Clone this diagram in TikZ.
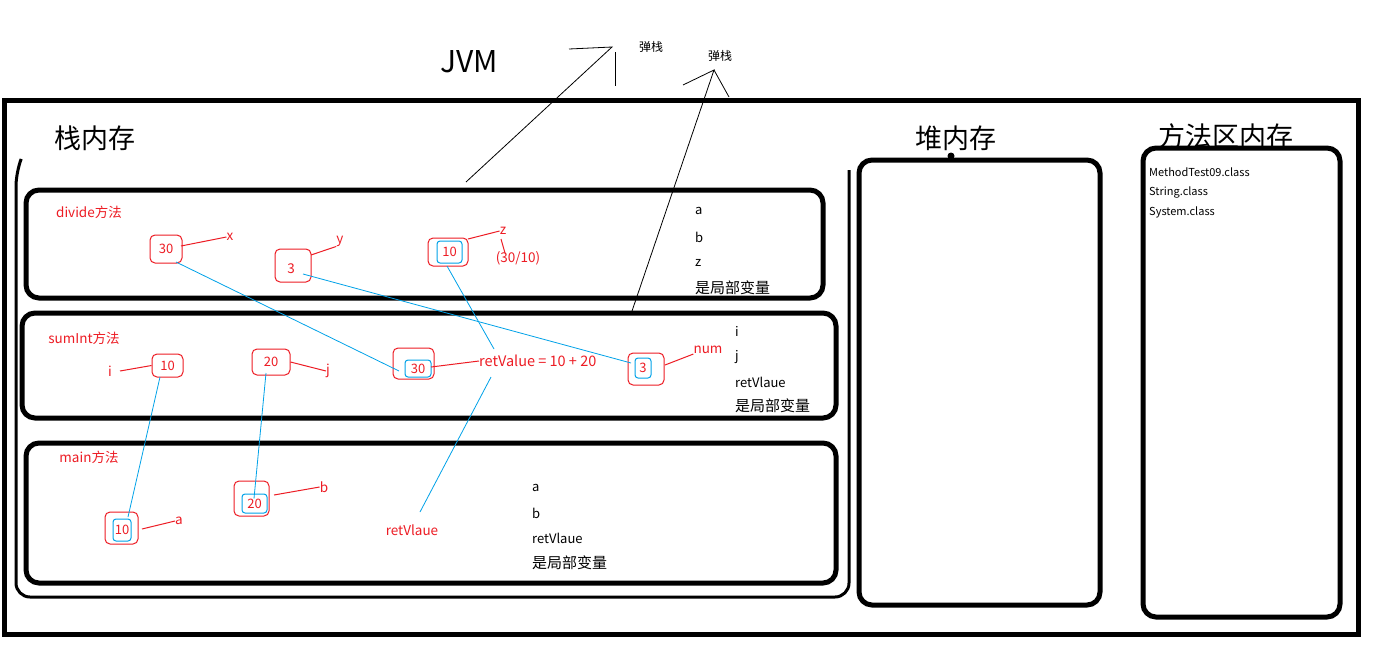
\documentclass[tikz,border=0pt]{standalone}
\usepackage{fontspec}
\setmainfont{Noto Sans CJK SC}
\usetikzlibrary{calc}
\definecolor{pred}{RGB}{237,28,36}
\definecolor{pblue}{RGB}{0,162,232}
\begin{document}
\begin{tikzpicture}[x=1pt,y=-1pt,
  frame/.style={draw, line width=5pt, inner sep=0pt},
  panel/.style={draw, line width=5pt, rounded corners=13pt, inner sep=0pt},
  vbox/.style={draw=pred, line width=1pt, rounded corners=5pt, inner sep=0pt, text=pred, font=\fontsize{13}{15}\selectfont},
  ibox/.style={draw=pblue, line width=1pt, rounded corners=3pt, inner sep=0pt, text=pred, font=\fontsize{13}{15}\selectfont},
  rlab/.style={text=pred, font=\fontsize{13.5}{15}\selectfont, inner sep=0pt},
  blab/.style={text=black, font=\fontsize{13}{15}\selectfont, inner sep=0pt, anchor=west},
  cjklab/.style={text=black, font=\fontsize{15}{17}\selectfont, inner sep=0pt, anchor=west},
  clab/.style={text=black, font=\fontsize{11}{13}\selectfont, inner sep=0pt, anchor=west},
  ttl/.style={font=\fontsize{27}{30}\selectfont, inner sep=0pt},
  redline/.style={draw=pred, line width=1pt},
  blueline/.style={draw=pblue, line width=0.8pt},
  blkline/.style={draw=black, line width=0.8pt}]
\useasboundingbox (0,0) rectangle (1381,648);
\fill[white] (0,0) rectangle (1381,648);

% outer JVM frame
\node[frame, minimum width=1354pt, minimum height=534pt] (jvmbox) at (681,367) {};
\node[ttl, font=\fontsize{30}{32}\selectfont] (jvm) at (469,62) {JVM};

% stack panel (open top)
\coordinate (stl) at (20,162);
\coordinate (str) at (849,170);
\draw[line width=3pt, rounded corners=14pt] (stl) -- (16,172) -- (16,597) -- (849,597) -- (str);
\node[ttl] (stacktitle) at (95,138) {栈内存};

% method frames
\node[panel, minimum width=797pt, minimum height=108pt] (divide) at (424.5,244) {};
\node[panel, minimum width=814pt, minimum height=105pt] (sumint) at (429,365.5) {};
\node[panel, minimum width=810pt, minimum height=140pt] (mainf) at (431,513) {};

% heap
\node[ttl] (heaptitle) at (956,138) {堆内存};
\node[panel, minimum width=241pt, minimum height=445pt] (heap) at (979.5,382.5) {};
\fill (951,156) circle (3.5pt);

% method area
\node[ttl] (matitle) at (1226,136) {方法区内存};
\node[panel, minimum width=197pt, minimum height=469pt] (marea) at (1241.5,382.5) {};
\node[clab] (c1) at (1149,172) {MethodTest09.class};
\node[clab] (c2) at (1149,192) {String.class};
\node[clab] (c3) at (1149,212) {System.class};

% pop-stack annotations
\node[inner sep=0pt, font=\fontsize{12}{14}\selectfont] (pop1) at (651,47) {弹栈};
\node[inner sep=0pt, font=\fontsize{12}{14}\selectfont] (pop2) at (720,56) {弹栈};
\coordinate (p1) at (466,182);
\coordinate (p2) at (612,47);
\coordinate (p3) at (569,49);
\coordinate (p4) at (615,52);
\coordinate (p5) at (615,86);
\draw[blkline] (p1) -- (p2) -- (p3);
\draw[blkline] (p4) -- (p5);
\coordinate (q1) at (631,314);
\coordinate (q2) at (714,70);
\coordinate (q3) at (683,85);
\coordinate (q4) at (729,97);
\draw[blkline] (q1) -- (q2) -- (q3);
\draw[blkline] (q2) -- (q4);

% ---- divide frame ----
\node[rlab] (dname) at (89,212) {divide方法};
\node[vbox, minimum width=32pt, minimum height=28pt] (d30) at (166,249) {30};
\node[rlab] (dx) at (230,237) {x};
\draw[redline] (181,246) -- (dx.west);
\node[vbox, minimum width=36pt, minimum height=33pt] (d3) at (293,265.5) {};
\node[rlab] (d3t) at (291,269) {3};
\node[rlab] (dy) at (340,241) {y};
\draw[redline] (311,255) -- (dy.south west);
\node[vbox, minimum width=40pt, minimum height=28pt] (d10) at (448,252) {};
\node[ibox, minimum width=25pt, minimum height=22pt] (d10i) at (449.5,252) {10};
\node[rlab] (dz) at (503,231) {z};
\draw[redline] (468,239) -- (dz.west);
\node[rlab] (dq) at (518,258) {(30/10)};
\draw[redline] (501,239) -- (505,253);
\node[blab] (da) at (695,211) {a};
\node[blab] (db) at (695,237) {b};
\node[blab] (dzz) at (695,263) {z};
\node[cjklab] (dloc) at (695,288) {是局部变量};

% ---- sumInt frame ----
\node[rlab] (sname) at (84,338) {sumInt方法};
\node[vbox, minimum width=31pt, minimum height=23pt] (s10) at (167.5,365.5) {10};
\node[rlab] (si) at (110,371) {i};
\draw[redline] (120,371) -- (s10.west);
\node[vbox, minimum width=38pt, minimum height=26pt] (s20) at (271,362) {20};
\node[rlab] (sj) at (328,371) {j};
\draw[redline] (s20.east) -- (sj.west);
\node[vbox, minimum width=41pt, minimum height=31pt] (s30) at (413.5,363.5) {};
\node[ibox, minimum width=26pt, minimum height=17pt] (s30i) at (418,368.5) {30};
\node[rlab, anchor=west, font=\fontsize{14.5}{16}\selectfont] (retval) at (479,361) {retValue = 10 + 20};
\draw[redline] (431,367) -- (retval.west);
\node[vbox, minimum width=36pt, minimum height=32pt] (s3) at (646,369) {};
\node[ibox, minimum width=16pt, minimum height=20pt] (s3i) at (643,368) {3};
\node[rlab] (snum) at (708,350) {num};
\draw[redline] (665,365) -- (snum.south west);
\node[blab] (sii) at (735,331) {i};
\node[blab] (sjj) at (735,357) {j};
\node[blab] (sret) at (735,382) {retVlaue};
\node[cjklab] (sloc) at (735,406) {是局部变量};

% ---- main frame ----
\node[rlab] (mname) at (89,457) {main方法};
\node[vbox, minimum width=33pt, minimum height=32pt] (m10) at (121.5,528) {};
\node[ibox, minimum width=18pt, minimum height=22pt] (m10i) at (122,530) {10};
\node[rlab, anchor=west] (ma) at (175,521) {a};
\draw[redline] (142,529) -- (ma.west);
\node[vbox, minimum width=35pt, minimum height=35pt] (m20) at (251.5,498.5) {};
\node[ibox, minimum width=25pt, minimum height=19pt] (m20i) at (254.5,503.5) {20};
\node[rlab] (mb) at (324,487) {b};
\draw[redline] (274,495) -- (mb.west);
\node[rlab] (mret) at (412,530) {retVlaue};
\node[blab] (maa) at (532,488) {a};
\node[blab] (mbb) at (532,513) {b};
\node[blab] (mrr) at (532,538) {retVlaue};
\node[cjklab] (mloc) at (532,563) {是局部变量};

% ---- blue value-passing connectors ----
\draw[blueline] ($(d30)+(10,13)$) -- ($(s30)+(-14.5,7.5)$);
\draw[blueline] ($(d3)+(10,8.5)$) -- ($(s3)+(-15,-6)$);
\draw[blueline] ($(d10)+(-1,14)$) -- ($(retval.west)+(15,-12)$);
\draw[blueline] ($(retval.west)+(12,16)$) -- ($(mret)+(8,-18)$);
\draw[blueline] ($(s10)+(-7.5,11.5)$) -- ($(m10)+(6.5,-11)$);
\draw[blueline] ($(s20)+(-5,11)$) -- ($(m20)+(2.5,0)$);
\end{tikzpicture}
\end{document}
